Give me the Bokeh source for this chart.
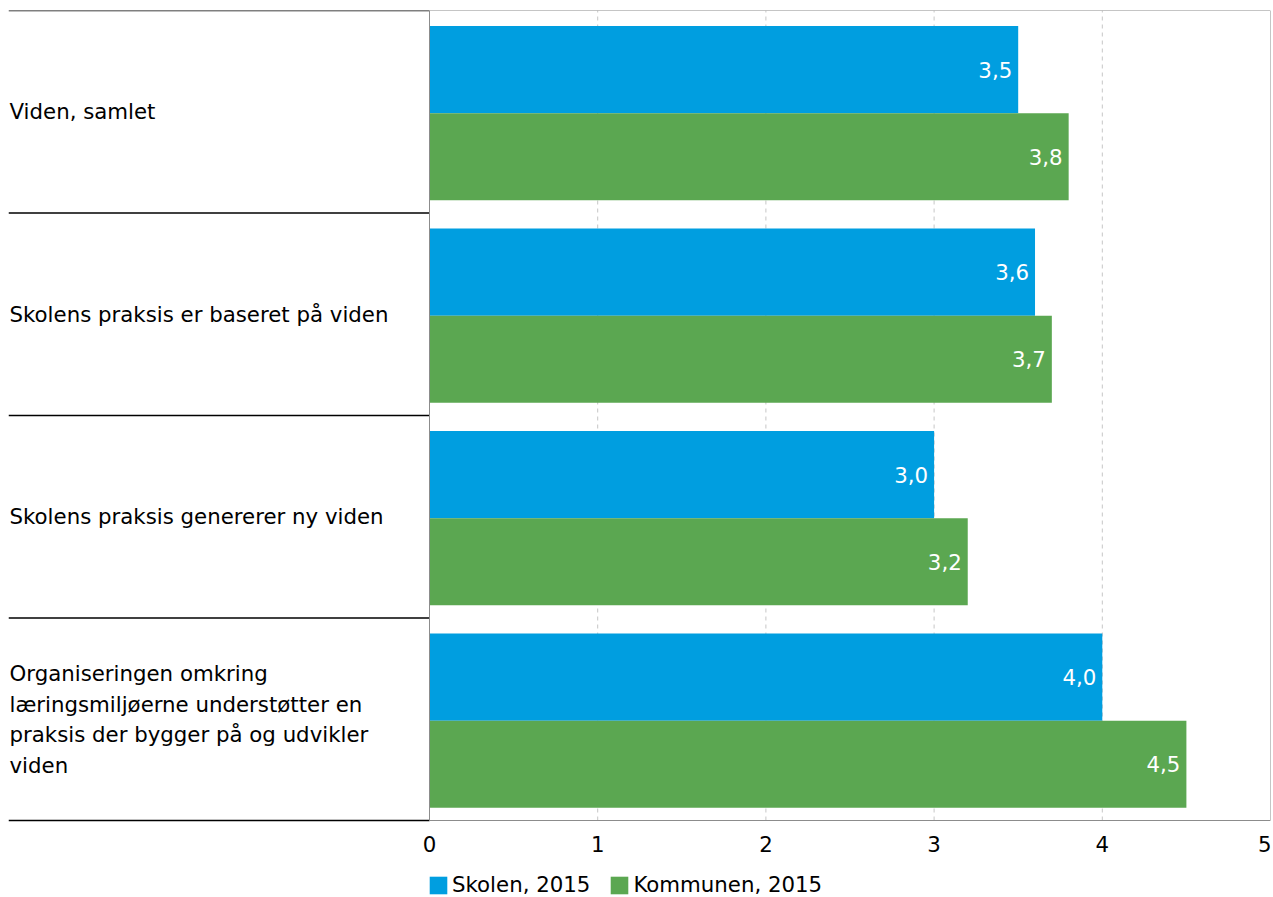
from bokeh.plotting import figure
from bokeh.models import Range1d, FixedTicker, Legend, LegendItem, ColumnDataSource
from bokeh.core.properties import value
from bokeh.embed import file_html
from bokeh.resources import INLINE

categories = [
    "Viden, samlet",
    "Skolens praksis er baseret på viden",
    "Skolens praksis genererer ny viden",
    "Organiseringen omkring\nlæringsmiljøerne understøtter en\npraksis der bygger på og udvikler\nviden",
]
skolen = [3.5, 3.6, 3.0, 4.0]
kommunen = [3.8, 3.7, 3.2, 4.5]
series_names = ["Skolen, 2015", "Kommunen, 2015"]
x_ticks = [0, 1, 2, 3, 4, 5]

BLUE = "#009EE0"
GREEN = "#5BA751"
FONT = "DejaVu Sans"
FS = "21.3px"

n = len(categories)
centers = [n - i - 0.5 for i in range(n)]
BAR_H = 0.43
BAR_SHIFT = -0.007

FRAME_W = 1262
LEFT_PX = 421
unit = (FRAME_W - LEFT_PX) / x_ticks[-1]
X_START = -LEFT_PX / unit

CAT_PX = 202.5          # pixel height of one category band
FRAME_H = 887
Y_START = n - FRAME_H / CAT_PX

p = figure(
    frame_width=FRAME_W, frame_height=FRAME_H,
    min_border_left=8, min_border_right=1, min_border_top=10, min_border_bottom=0,
    x_range=Range1d(X_START, x_ticks[-1]), y_range=Range1d(Y_START, n),
    output_backend="svg", toolbar_location=None,
)
p.outline_line_color = None
p.background_fill_color = "white"
p.border_fill_color = "white"

p.yaxis.visible = False
p.grid.visible = False

xmax = x_ticks[-1]
# dashed vertical gridlines inside the plot box
inner = x_ticks[1:-1]
p.segment(x0=inner, x1=inner, y0=[0] * len(inner), y1=[n] * len(inner),
          line_color="#c6c6c6", line_dash="4 4", line_width=1)

p.xaxis.fixed_location = 0
p.xaxis.ticker = FixedTicker(ticks=x_ticks)
p.xaxis.axis_line_color = None
p.xaxis.major_tick_line_color = None
p.xaxis.minor_tick_line_color = None
p.xaxis.major_label_text_font = FONT
p.xaxis.major_label_text_font_size = FS
p.xaxis.major_label_text_color = "black"
p.xaxis.major_label_standoff = 9

src_b = ColumnDataSource(dict(y=[c + BAR_H / 2 + BAR_SHIFT for c in centers], v=skolen,
                              lab=[f"{v:.1f}".replace(".", ",") for v in skolen]))
src_g = ColumnDataSource(dict(y=[c - BAR_H / 2 + BAR_SHIFT for c in centers], v=kommunen,
                              lab=[f"{v:.1f}".replace(".", ",") for v in kommunen]))

rb = p.hbar(y="y", right="v", left=0, height=BAR_H, source=src_b, fill_color=BLUE, line_color=None)
rg = p.hbar(y="y", right="v", left=0, height=BAR_H, source=src_g, fill_color=GREEN, line_color=None)

for src in (src_b, src_g):
    p.text(x="v", y="y", text="lab", source=src, x_offset=-6, text_align="right",
           text_baseline="middle", text_color="white", text_font=value(FONT), text_font_size=FS)

# category labels
p.text(x=[X_START] * n, y=centers, text=categories, x_offset=1, text_align="left",
       text_baseline="middle", text_color="black", text_font=value(FONT), text_font_size=FS,
       text_line_height=1.22)

# category separators
bounds = list(range(n + 1))
p.segment(x0=[X_START] * len(bounds), x1=[0] * len(bounds), y0=bounds, y1=bounds,
          line_color="black", line_width=1.5)

# plot box
p.segment(x0=[0, xmax, 0, 0], y0=[0, 0, 0, n], x1=[0, xmax, xmax, xmax], y1=[n, n, 0, n],
          line_color="#8c8c8c", line_width=1)

legend = Legend(items=[LegendItem(label=series_names[0], renderers=[rb]),
                       LegendItem(label=series_names[1], renderers=[rg])],
                orientation="horizontal", location=(LEFT_PX - 2, 0))
legend.label_text_font = FONT
legend.label_text_font_size = FS
legend.label_text_color = "black"
legend.glyph_width = 22
legend.glyph_height = 22
legend.label_standoff = 3
legend.spacing = 18
legend.padding = 0
legend.margin = 0
legend.border_line_color = None
legend.background_fill_alpha = 0
p.add_layout(legend)

open("out.html", "w").write(file_html(p, INLINE))
